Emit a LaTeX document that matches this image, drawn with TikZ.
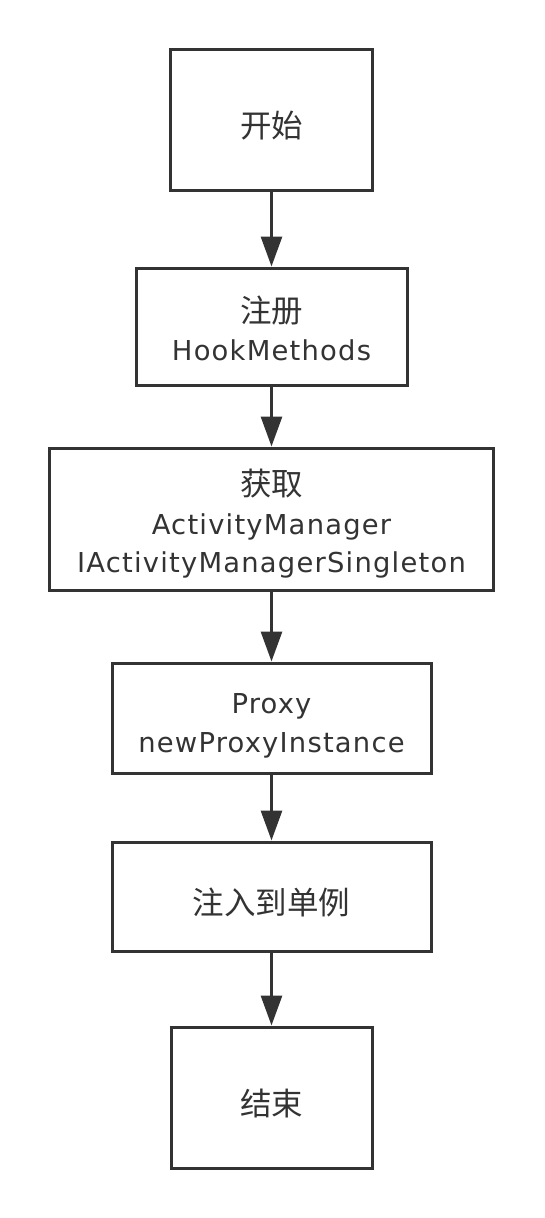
\documentclass[tikz,border=0pt]{standalone}
\usepackage{fontspec}
\setmainfont{DejaVu Sans}[LetterSpace=4.4]
\newfontfamily\cjk{Noto Sans CJK SC}
\usetikzlibrary{arrows.meta}

\definecolor{ink}{HTML}{333333}
\newcommand\zh[1]{{\cjk\fontsize{31.5}{38.5}\selectfont #1}}
% fixed line top and bottom so that text sits the same in every box
\newcommand\toprule{\rule{0pt}{48pt}}
\newcommand\botrule{\rule[-12pt]{0pt}{12pt}}
\newcommand\firstrule{\rule{0pt}{42pt}}% first line of a box with several lines

\tikzset{
  stepbox/.style={draw=ink, line width=3pt, text=ink, align=center,
    inner sep=0pt, font=\fontsize{27.4}{38.5}\selectfont,
    execute at begin node=\toprule, execute at end node=\botrule},
  flow/.style={draw=ink, line width=3pt, -{Triangle[length=30pt,width=21pt]}}
}

\begin{document}
\begin{tikzpicture}[x=1pt, y=-1pt]

  \useasboundingbox (0,0) rectangle (544,1218);

  \node[stepbox, minimum width=202pt, minimum height=141pt] (start) at (271.5, 119.5) {\zh{开始}};
  \node[stepbox, minimum width=271pt, minimum height=117pt] (hook) at (271.5, 326.5) {\firstrule\zh{注册}\\HookMethods};
  \node[stepbox, minimum width=444pt, minimum height=142pt] (fetch) at (271.5, 519) {\firstrule\zh{获取}\\ActivityManager\\IActivityManagerSingleton};
  \node[stepbox, minimum width=319pt, minimum height=110pt] (proxy) at (271.5, 718) {\firstrule Proxy\\newProxyInstance};
  \node[stepbox, minimum width=319pt, minimum height=109pt] (inject) at (271.5, 896.5) {\zh{注入到单例}};
  \node[stepbox, minimum width=201pt, minimum height=141pt] (stop) at (271.5, 1097.5) {\zh{结束}};

  \draw[flow] (start) -- (hook);
  \draw[flow] (hook) -- (fetch);
  \draw[flow] (fetch) -- (proxy);
  \draw[flow] (proxy) -- (inject);
  \draw[flow] (inject) -- (stop);

\end{tikzpicture}
\end{document}
